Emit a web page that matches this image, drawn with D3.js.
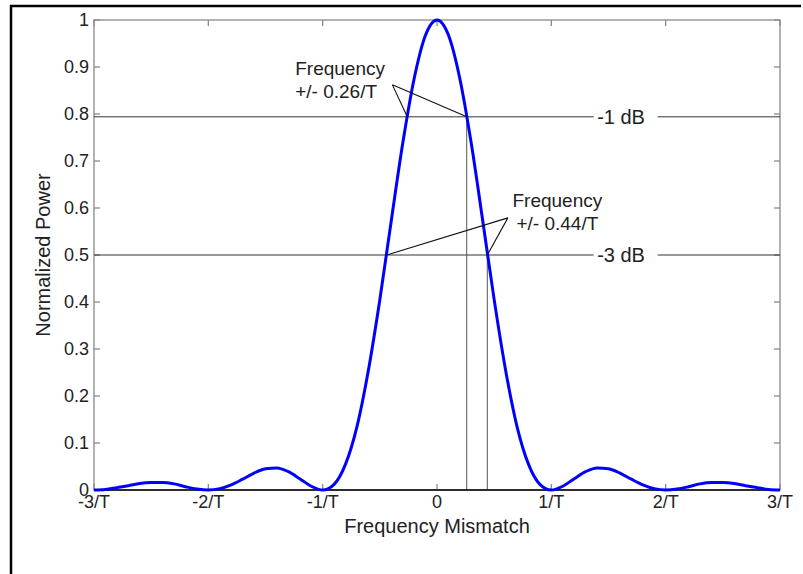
<!DOCTYPE html>
<html>
<head>
<meta charset="utf-8">
<script src="https://cdn.jsdelivr.net/npm/d3@7"></script>
<style>
  body { margin: 0; background: #fff; }
  svg { display: block; font-family: "Liberation Sans", Arial, sans-serif; }
</style>
</head>
<body>
<div id="chart"></div>
<script>
// frequency mismatch in units of 1/T
var freq = [-3.0, -2.9, -2.8, -2.7, -2.6, -2.5, -2.4, -2.3, -2.2, -2.1,
            -2.0, -1.9, -1.8, -1.7, -1.6, -1.5, -1.4, -1.3, -1.2, -1.1,
            -1.0, -0.9, -0.8, -0.7, -0.6, -0.5, -0.4, -0.3, -0.2, -0.1,
             0.0,  0.1,  0.2,  0.3,  0.4,  0.5,  0.6,  0.7,  0.8,  0.9,
             1.0,  1.1,  1.2,  1.3,  1.4,  1.5,  1.6,  1.7,  1.8,  1.9,
             2.0,  2.1,  2.2,  2.3,  2.4,  2.5,  2.6,  2.7,  2.8,  2.9, 3.0];

// normalized power
var power = [0.000, 0.001, 0.005, 0.009, 0.014, 0.016, 0.016, 0.013, 0.007, 0.002,
             0.000, 0.003, 0.011, 0.023, 0.036, 0.045, 0.047, 0.039, 0.024, 0.008,
             0.000, 0.012, 0.055, 0.135, 0.255, 0.405, 0.573, 0.737, 0.875, 0.968,
             1.000, 0.968, 0.875, 0.737, 0.573, 0.405, 0.255, 0.135, 0.055, 0.012,
             0.000, 0.008, 0.024, 0.039, 0.047, 0.045, 0.036, 0.023, 0.011, 0.003,
             0.000, 0.002, 0.007, 0.013, 0.016, 0.016, 0.014, 0.009, 0.005, 0.001, 0.000];

var xTicks = [-3, -2, -1, 0, 1, 2, 3];
var xTickLabels = ["-3/T", "-2/T", "-1/T", "0", "1/T", "2/T", "3/T"];
var yTicks = [0, 0.1, 0.2, 0.3, 0.4, 0.5, 0.6, 0.7, 0.8, 0.9, 1];

// reference levels and where the main lobe crosses them
var levelNames = ["-1 dB", "-3 dB"];
var levelValues = [0.794, 0.5];
var crossFreq = [0.26, 0.44];
var crossLabels = ["+/- 0.26/T", "+/- 0.44/T"];

var width = 803, height = 574;
var margin = { top: 20, right: 23, bottom: 84, left: 94 };

var svg = d3.select("#chart")
    .append("svg")
    .attr("width", width)
    .attr("height", height);

// page frame (left and top border)
svg.append("path")
    .attr("d", "M11,574 L11,6 L801,6")
    .attr("fill", "none")
    .attr("stroke", "#000")
    .attr("stroke-width", 2.5);

var x = d3.scaleLinear().domain([-3, 3]).range([margin.left, width - margin.right]);
var y = d3.scaleLinear().domain([0, 1]).range([height - margin.bottom, margin.top]);

var g = svg.append("g");
var axisGray = "#8a8a8a";
var textColor = "#222";

// box
g.append("rect")
    .attr("x", x(-3)).attr("y", y(1))
    .attr("width", x(3) - x(-3)).attr("height", y(0) - y(1))
    .attr("fill", "none")
    .attr("stroke", axisGray)
    .attr("stroke-width", 1.3);

// inward ticks on all four sides
var tickLen = 6;
xTicks.forEach(function(t) {
    g.append("line").attr("x1", x(t)).attr("x2", x(t))
        .attr("y1", y(0)).attr("y2", y(0) - tickLen)
        .attr("stroke", axisGray).attr("stroke-width", 1.3);
    g.append("line").attr("x1", x(t)).attr("x2", x(t))
        .attr("y1", y(1)).attr("y2", y(1) + tickLen)
        .attr("stroke", axisGray).attr("stroke-width", 1.3);
});
yTicks.forEach(function(t) {
    g.append("line").attr("x1", x(-3)).attr("x2", x(-3) + tickLen)
        .attr("y1", y(t)).attr("y2", y(t))
        .attr("stroke", axisGray).attr("stroke-width", 1.3);
    g.append("line").attr("x1", x(3)).attr("x2", x(3) - tickLen)
        .attr("y1", y(t)).attr("y2", y(t))
        .attr("stroke", axisGray).attr("stroke-width", 1.3);
});

// tick labels
g.selectAll(".ylab")
    .data(yTicks)
    .join("text")
    .attr("class", "ylab")
    .attr("x", x(-3) - 5)
    .attr("y", function(d) { return y(d) + 6; })
    .attr("text-anchor", "end")
    .attr("font-size", 18)
    .attr("fill", textColor)
    .text(function(d) { return d; });

g.selectAll(".xlab")
    .data(xTicks)
    .join("text")
    .attr("class", "xlab")
    .attr("x", function(d) { return x(d); })
    .attr("y", y(0) + 18)
    .attr("text-anchor", "middle")
    .attr("font-size", 18)
    .attr("fill", textColor)
    .text(function(d, i) { return xTickLabels[i]; });

// axis titles
g.append("text")
    .attr("x", x(0))
    .attr("y", y(0) + 43)
    .attr("text-anchor", "middle")
    .attr("font-size", 20)
    .attr("fill", textColor)
    .text("Frequency Mismatch");

g.append("text")
    .attr("transform", "translate(50," + y(0.5) + ") rotate(-90)")
    .attr("text-anchor", "middle")
    .attr("font-size", 20)
    .attr("fill", textColor)
    .text("Normalized Power");

// reference level lines with their labels
levelValues.forEach(function(v, i) {
    g.append("line")
        .attr("x1", x(-3)).attr("x2", x(3))
        .attr("y1", y(v)).attr("y2", y(v))
        .attr("stroke", "#333").attr("stroke-width", 1);
    g.append("rect")
        .attr("x", x(1.37)).attr("y", y(v) - 10)
        .attr("width", 64).attr("height", 20)
        .attr("fill", "#fff");
    g.append("text")
        .attr("x", x(1.61))
        .attr("y", y(v) + 7)
        .attr("text-anchor", "middle")
        .attr("font-size", 20)
        .attr("fill", textColor)
        .text(levelNames[i]);
});

// vertical drop lines at the positive crossings
crossFreq.forEach(function(f, i) {
    g.append("line")
        .attr("x1", x(f)).attr("x2", x(f))
        .attr("y1", y(levelValues[i])).attr("y2", y(0))
        .attr("stroke", "#555").attr("stroke-width", 1);
});

// bottom baseline
g.append("line")
    .attr("x1", x(-3)).attr("x2", x(3))
    .attr("y1", y(0)).attr("y2", y(0))
    .attr("stroke", "#000").attr("stroke-width", 1.5);

// the curve
var pts = freq.map(function(f, i) { return [f, power[i]]; });
var line = d3.line()
    .x(function(d) { return x(d[0]); })
    .y(function(d) { return y(d[1]); })
    .curve(d3.curveMonotoneX);

g.append("path")
    .datum(pts)
    .attr("d", line)
    .attr("fill", "none")
    .attr("stroke", "#0000ff")
    .attr("stroke-width", 3);

// annotations: text block plus two pointer lines to the crossings
var notes = [
    { tx: -1.24, ty: 0.883, ax: -0.39, ay: 0.862 },
    { tx: 0.66, ty: 0.603, ax: 0.62, ay: 0.579 }
];
notes.forEach(function(n, i) {
    g.append("text")
        .attr("x", x(n.tx)).attr("y", y(n.ty))
        .attr("font-size", 19)
        .attr("fill", textColor)
        .text("Frequency");
    g.append("text")
        .attr("x", x(n.tx) + (i == 0 ? 0 : 4)).attr("y", y(n.ty) + 23)
        .attr("font-size", 19)
        .attr("fill", textColor)
        .text(crossLabels[i]);
    [-crossFreq[i], crossFreq[i]].forEach(function(f) {
        g.append("line")
            .attr("x1", x(n.ax)).attr("y1", y(n.ay))
            .attr("x2", x(f)).attr("y2", y(levelValues[i]))
            .attr("stroke", "#111").attr("stroke-width", 1.1);
    });
});
</script>
</body>
</html>
